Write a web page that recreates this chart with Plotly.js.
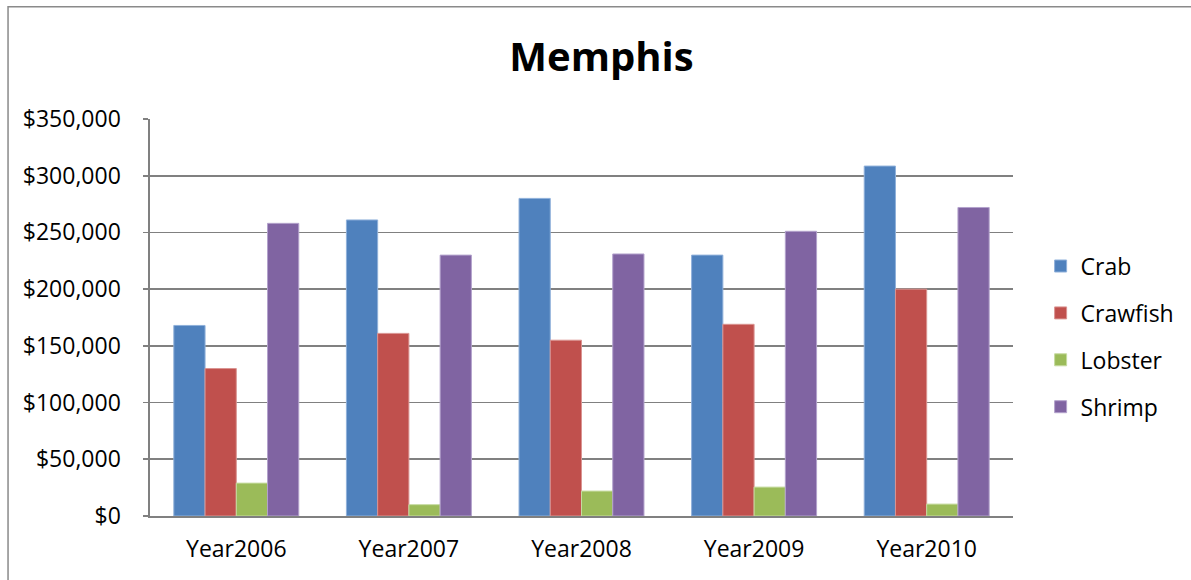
<!DOCTYPE html>
<html>
<head>
<meta charset="utf-8">
<script src="https://cdn.plot.ly/plotly-3.0.1.min.js"></script>
<style>
  html, body { margin: 0; padding: 0; background: #fff; }
  #chart { width: 1191px; height: 580px; }
</style>
</head>
<body>
<div id="chart"></div>
<script>
// Annual sales by product, Memphis
const years = ["Year2006", "Year2007", "Year2008", "Year2009", "Year2010"];
const crab     = [168000, 261000, 280000, 230000, 308500];
const crawfish = [130000, 161000, 155000, 169000, 200000];
const lobster  = [29000, 10000, 22000, 25500, 10500];
const shrimp   = [258000, 230000, 231000, 251000, 272000];

const seriesNames  = ["Crab", "Crawfish", "Lobster", "Shrimp"];
const seriesValues = [crab, crawfish, lobster, shrimp];
const seriesColors = ["#4F81BD", "#C0504D", "#9BBB59", "#8064A2"];
const edgeColors   = ["#8FB0DA", "#DA9492", "#C6DBA0", "#B3A2CC"];

const baseFont = "'Open Sans', 'Noto Sans', sans-serif";

const traces = seriesNames.map((name, i) => ({
  type: "bar",
  name: name,
  x: years,
  y: seriesValues[i],
  legendgroup: name,
  marker: { color: seriesColors[i], line: { color: edgeColors[i], width: 1 } },
  hoverinfo: "x+y+name"
}));

const layout = {
  width: 1191,
  height: 580,
  paper_bgcolor: "#ffffff",
  plot_bgcolor: "#ffffff",
  margin: { l: 150, r: 178, t: 119, b: 64, pad: 0, autoexpand: false },
  font: { family: baseFont, color: "#000000", size: 23 },
  title: {
    text: "<b>Memphis</b>",
    font: { family: baseFont, size: 40, color: "#000000" },
    xref: "container", x: 0.505, xanchor: "center",
    yref: "container", y: 0.902, yanchor: "middle"
  },
  barmode: "group",
  bargap: 0.276,
  bargroupgap: 0,
  showlegend: true,
  legend: {
    x: 1.032, xanchor: "left",
    y: 0.452, yanchor: "middle",
    traceorder: "grouped",
    tracegroupgap: 14,
    font: { family: baseFont, size: 23, color: "#000000" },
    itemclick: false, itemdoubleclick: false
  },
  xaxis: {
    type: "category",
    showgrid: false,
    showline: true,
    linecolor: "#808080",
    linewidth: 1.6,
    ticks: "",
    ticklabelstandoff: 12,
    tickfont: { family: baseFont, size: 23, color: "#000000" },
    zeroline: false,
    fixedrange: true
  },
  yaxis: {
    range: [0, 350000],
    dtick: 50000,
    tick0: 0,
    tickformat: "$,",
    showgrid: true,
    gridcolor: "#808080",
    gridwidth: 1.6,
    showline: true,
    linecolor: "#808080",
    linewidth: 1.6,
    ticks: "outside",
    ticklen: 5,
    tickcolor: "#808080",
    tickwidth: 1.6,
    ticklabelstandoff: 18,
    tickfont: { family: baseFont, size: 23, color: "#000000" },
    zeroline: false,
    fixedrange: true
  },
  shapes: [
    // chart-area frame (top and left edges fall inside the page)
    {
      type: "rect", xref: "paper", yref: "paper",
      x0: -0.1645, x1: 1.4, y0: -0.3, y1: 1.2825,
      line: { color: "#8a8a8a", width: 1.5 },
      fillcolor: "rgba(0,0,0,0)",
      layer: "below"
    }
  ]
};

Plotly.newPlot("chart", traces, layout, { displayModeBar: false, staticPlot: true });
</script>
</body>
</html>
